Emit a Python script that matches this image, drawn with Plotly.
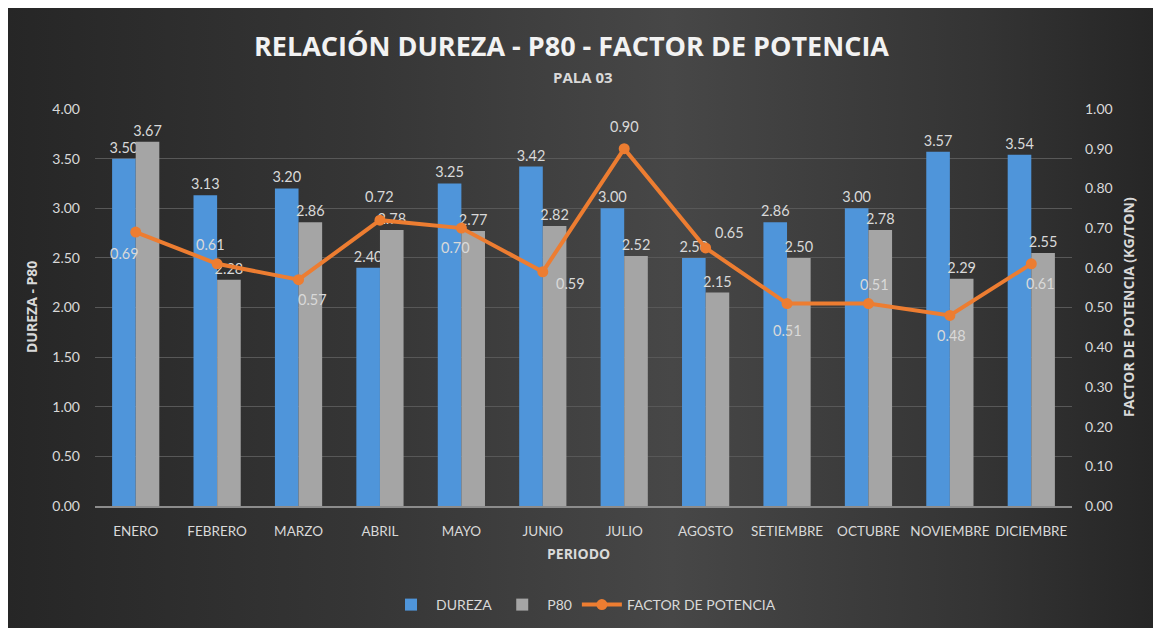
import base64
import plotly.graph_objects as go

# --- data ---
meses = ["ENERO", "FEBRERO", "MARZO", "ABRIL", "MAYO", "JUNIO", "JULIO",
         "AGOSTO", "SETIEMBRE", "OCTUBRE", "NOVIEMBRE", "DICIEMBRE"]
dureza = [3.50, 3.13, 3.20, 2.40, 3.25, 3.42, 3.00, 2.50, 2.86, 3.00, 3.57, 3.54]
p80 = [3.67, 2.28, 2.86, 2.78, 2.77, 2.82, 2.52, 2.15, 2.50, 2.78, 2.29, 2.55]
factor = [0.69, 0.61, 0.57, 0.72, 0.70, 0.59, 0.90, 0.65, 0.51, 0.51, 0.48, 0.61]

# label offsets (px) for the power-factor points
factor_label_shift = [(-11, -21), (-7, 19), (14, -20), (0, 24), (-6, -19), (28, -12),
                      (0, 22), (24, 15), (0, -27), (6, 19), (2, -20), (9, -20)]

W, H = 1153, 628
M_L, M_R, M_T, M_B = 95, 81, 109, 122
PW, PH = W - M_L - M_R, H - M_T - M_B

TXT = "#D9D9D9"
BLUE = "#4F95DA"
GRAY = "#A5A5A5"
ORANGE = "#ED7D31"

font_main = "Lato, 'Open Sans', sans-serif"
font_bold = "'Open Sans', Lato, sans-serif"

fig = go.Figure()
fig.add_trace(go.Bar(
    name="DUREZA", x=meses, y=dureza, marker=dict(color=BLUE, line_width=0),
    text=[f"{v:.2f}" for v in dureza], textposition="outside", constraintext="none",
    textfont=dict(color=TXT, size=14.5), cliponaxis=False,
))
fig.add_trace(go.Bar(
    name="P80", x=meses, y=p80, marker=dict(color=GRAY, line_width=0),
    text=[f"{v:.2f}" for v in p80], textposition="outside", constraintext="none",
    textfont=dict(color=TXT, size=14.5), cliponaxis=False,
))
fig.add_trace(go.Scatter(
    name="FACTOR DE POTENCIA", x=meses, y=factor, yaxis="y2",
    mode="lines+markers", line=dict(color=ORANGE, width=4),
    marker=dict(color=ORANGE, size=11), cliponaxis=False,
))

for m, v, (dx, dy) in zip(meses, factor, factor_label_shift):
    fig.add_annotation(x=m, y=v, xref="x", yref="y2", text=f"{v:.2f}",
                       showarrow=False, xshift=dx, yshift=dy,
                       xanchor="center", yanchor="middle",
                       font=dict(color=TXT, size=14.5))

# background: dark horizontal gradient on the chart card
svg = ("<svg xmlns='http://www.w3.org/2000/svg' width='1145' height='620' "
       "preserveAspectRatio='none'><defs><linearGradient id='g' x1='0' y1='0' x2='1' y2='0'>"
       "<stop offset='0' stop-color='#262626'/><stop offset='0.3' stop-color='#353535'/>"
       "<stop offset='0.58' stop-color='#474747'/><stop offset='0.85' stop-color='#343434'/>"
       "<stop offset='1' stop-color='#262626'/></linearGradient></defs>"
       "<rect width='1145' height='620' fill='url(#g)'/></svg>")
src = "data:image/svg+xml;base64," + base64.b64encode(svg.encode()).decode()


def px_x(p):
    return (p - M_L) / PW


def px_y(p):
    return (H - M_B - p) / PH


fig.add_layout_image(source=src, xref="paper", yref="paper",
                     x=px_x(8), y=px_y(8), sizex=(W - 8) / PW, sizey=(H - 8) / PH,
                     xanchor="left", yanchor="top", sizing="stretch", layer="below")


def label(text, x, y, size, angle=0, color=TXT):
    fig.add_annotation(text=text, xref="paper", yref="paper", x=px_x(x), y=px_y(y),
                       xanchor="center", yanchor="middle", showarrow=False,
                       textangle=angle, font=dict(family=font_bold, size=size, color=color))


label("<b>RELACIÓN DUREZA - P80 - FACTOR DE POTENCIA</b>", 571, 45, 27, color="#F2F2F2")
label("<b>PALA 03</b>", 583, 77, 15)
label("<b>PERIODO</b>", 578, 553, 14)
label("<b>DUREZA - P80</b>", 31, 307, 14, angle=-90)
label("<b>FACTOR DE POTENCIA (KG/TON)</b>", 1128, 307, 14, angle=-90)

fig.update_layout(
    width=W, height=H,
    margin=dict(l=M_L, r=M_R, t=M_T, b=M_B, pad=0, autoexpand=False),
    paper_bgcolor="white", plot_bgcolor="rgba(0,0,0,0)",
    font=dict(family=font_main, color=TXT, size=14),
    barmode="group", bargap=0.42, bargroupgap=0,
    showlegend=True,
    legend=dict(orientation="h", x=0.5, xanchor="center", y=px_y(605), yanchor="middle",
                font=dict(size=14, color=TXT), bgcolor="rgba(0,0,0,0)",
                itemwidth=40, traceorder="normal"),
    xaxis=dict(range=[-0.5, len(meses) - 0.5], showgrid=False, showline=True,
               linecolor="#8C8C8C", linewidth=1.5,
               ticks="", tickangle=0, tickfont=dict(size=13.5, color=TXT),
               ticklabelstandoff=12, automargin=False),
    yaxis=dict(range=[0, 4], dtick=0.5, tickformat=".2f", showgrid=True,
               gridcolor="#585858", gridwidth=1, zeroline=False, ticks="",
               tickfont=dict(size=14, color=TXT), ticklabelstandoff=14, automargin=False),
    yaxis2=dict(range=[0, 1], dtick=0.1, tickformat=".2f", overlaying="y", side="right",
                showgrid=False, zeroline=False, ticks="",
                tickfont=dict(size=14, color=TXT), ticklabelstandoff=12, automargin=False),
)

fig.write_html("out.html")
